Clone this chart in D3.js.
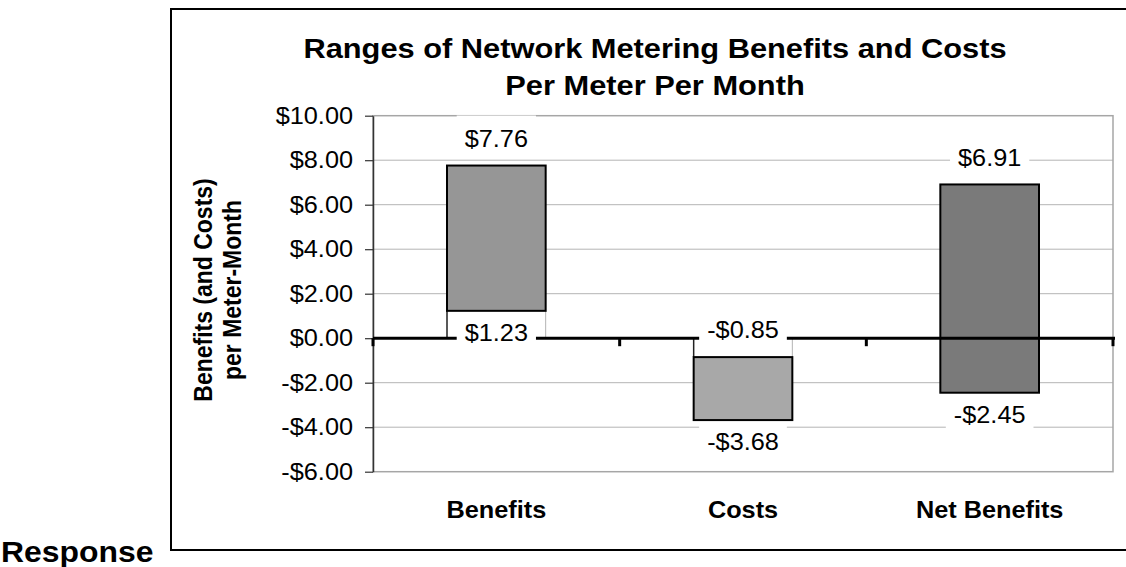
<!DOCTYPE html>
<html>
<head>
<meta charset="utf-8">
<script src="https://cdn.jsdelivr.net/npm/d3@7"></script>
<style>
  body { margin: 0; background: #fff; }
  text { font-family: "Liberation Sans", Arial, sans-serif; }
</style>
</head>
<body>
<div id="chart-area"></div>
<script>
/*
*    ranges chart
*/

var categories = ["Benefits", "Costs", "Net Benefits"];
var lowValues = [1.23, -3.68, -2.45];
var highValues = [7.76, -0.85, 6.91];
var barColors = ["#969696", "#a8a8a8", "#7a7a7a"];
var yTicks = [-6, -4, -2, 0, 2, 4, 6, 8, 10];
var titleLines = ["Ranges of Network Metering Benefits and Costs", "Per Meter Per Month"];
var yTitleLines = ["Benefits (and Costs)", "per Meter-Month"];
var sideLabel = "Response";

// the picture is stretched sideways a little, so text gets this x-scale
var sx = 1.1;

var margin = { left: 373, top: 115.7 };
var width = 740;
var height = 356;

var svg = d3.select("#chart-area").append("svg")
    .attr("width", 1126)
    .attr("height", 567);

// outer frame
svg.append("rect")
    .attr("x", 171).attr("y", 9)
    .attr("width", 1000).attr("height", 541)
    .attr("fill", "none")
    .attr("stroke", "#000")
    .attr("stroke-width", 2);

svg.append("text")
    .attr("transform", "translate(1, 562) scale(" + sx + ",1)")
    .attr("font-size", "29px")
    .attr("font-weight", "bold")
    .text(sideLabel);

// title
svg.selectAll(".title")
    .data(titleLines)
    .enter().append("text")
    .attr("class", "title")
    .attr("transform", (d, i) => "translate(655, " + (58 + i * 37) + ") scale(" + sx + ",1)")
    .attr("text-anchor", "middle")
    .attr("font-size", "28px")
    .attr("font-weight", "bold")
    .text((d) => d);

// y title
svg.selectAll(".ytitle")
    .data(yTitleLines)
    .enter().append("text")
    .attr("class", "ytitle")
    .attr("transform", (d, i) => "translate(" + (212 + i * 29) + ", 290) scale(" + sx + ",1) rotate(-90)")
    .attr("text-anchor", "middle")
    .attr("font-size", "23px")
    .attr("font-weight", "bold")
    .text((d) => d);

var g = svg.append("g")
    .attr("transform", "translate(" + margin.left + ", " + margin.top + ")");

var x = d3.scaleBand()
    .domain(categories)
    .range([0, width])
    .paddingInner(0.6)
    .paddingOuter(0.3);
var step = x.step();

var y = d3.scaleLinear()
    .domain([-6, 10])
    .range([height, 0]);

var money = (d) => (d < 0 ? "-" : "") + "$" + Math.abs(d).toFixed(2);

// grid lines
g.selectAll(".grid")
    .data(yTicks.filter((d) => d !== 0 && d !== -6 && d !== 10))
    .enter().append("line")
    .attr("x1", 0).attr("x2", width)
    .attr("y1", (d) => y(d)).attr("y2", (d) => y(d))
    .attr("stroke", "#b4b4b4")
    .attr("stroke-width", 1);

g.append("rect")
    .attr("x", 0).attr("y", 0)
    .attr("width", width).attr("height", height)
    .attr("fill", "none")
    .attr("stroke", "#a6a6a6")
    .attr("stroke-width", 1.5);

// left axis
var leftAxis = d3.axisLeft(y)
    .tickValues(yTicks)
    .tickSize(8)
    .tickSizeOuter(0)
    .tickPadding(20 / sx - 8)
    .tickFormat(money);
var ax = g.append("g")
    .attr("class", "left axis")
    .call(leftAxis);
ax.select(".domain").attr("stroke", "#333").attr("stroke-width", 1.5);
ax.selectAll(".tick line").attr("stroke", "#333").attr("stroke-width", 1.2);
ax.selectAll(".tick text")
    .attr("font-size", "23px")
    .attr("font-family", "Liberation Sans, Arial, sans-serif")
    .attr("fill", "#000")
    .attr("transform", "scale(" + sx + ",1)");

// invisible lower segments (white, only side edges show)
categories.forEach((c, i) => {
    var base = null;
    if (lowValues[i] > 0) base = lowValues[i];
    if (highValues[i] < 0) base = highValues[i];
    if (base === null) return;
    var y0 = y(0), y1 = y(base);
    g.append("line")
        .attr("x1", x(c)).attr("x2", x(c))
        .attr("y1", y0).attr("y2", y1)
        .attr("stroke", "#222").attr("stroke-width", 1.5);
    g.append("line")
        .attr("x1", x(c) + x.bandwidth()).attr("x2", x(c) + x.bandwidth())
        .attr("y1", y0).attr("y2", y1)
        .attr("stroke", "#b4b4b4").attr("stroke-width", 1);
});

// visible bars
g.selectAll(".bar")
    .data(categories)
    .enter().append("rect")
    .attr("class", "bar")
    .attr("x", (d) => x(d))
    .attr("y", (d, i) => y(highValues[i]))
    .attr("width", x.bandwidth())
    .attr("height", (d, i) => y(lowValues[i]) - y(highValues[i]))
    .attr("fill", (d, i) => barColors[i])
    .attr("stroke", "#000")
    .attr("stroke-width", 2);

// zero line with ticks at category edges
g.append("line")
    .attr("x1", 0).attr("x2", width + 2)
    .attr("y1", y(0)).attr("y2", y(0))
    .attr("stroke", "#000").attr("stroke-width", 3);
g.selectAll(".ztick")
    .data(d3.range(categories.length + 1))
    .enter().append("line")
    .attr("x1", (d) => d * step).attr("x2", (d) => d * step)
    .attr("y1", y(0)).attr("y2", y(0) + 8)
    .attr("stroke", "#000").attr("stroke-width", 3);

// data labels with white boxes
var labels = [];
categories.forEach((c, i) => {
    labels.push({ cat: c, v: highValues[i], cy: y(highValues[i]) - 27, top: true });
    labels.push({ cat: c, v: lowValues[i], cy: y(lowValues[i]) + 22, top: false });
});
var lab = g.selectAll(".dlabel")
    .data(labels)
    .enter().append("g")
    .attr("class", "dlabel")
    .attr("transform", (d) => "translate(" + (x(d.cat) + x.bandwidth() / 2) + ", " + d.cy + ")");
lab.append("rect").attr("fill", "#fff");
lab.append("text")
    .attr("text-anchor", "middle")
    .attr("dy", "0.36em")
    .attr("font-size", "23px")
    .attr("transform", "scale(" + sx + ",1)")
    .text((d) => money(d.v));
lab.each(function(d) {
    var t = d3.select(this).select("text").node();
    var w = t.getComputedTextLength() * sx + 16;
    var up = d.top ? 23 : 19;
    d3.select(this).select("rect")
        .attr("x", -w / 2).attr("y", -up)
        .attr("width", w).attr("height", up + 19);
});

// category labels
g.selectAll(".cat")
    .data(categories)
    .enter().append("text")
    .attr("class", "cat")
    .attr("transform", (d) => "translate(" + (x(d) + x.bandwidth() / 2) + ", " + (518 - margin.top) + ") scale(" + sx + ",1)")
    .attr("text-anchor", "middle")
    .attr("font-size", "23px")
    .attr("font-weight", "bold")
    .text((d) => d);
</script>
</body>
</html>
